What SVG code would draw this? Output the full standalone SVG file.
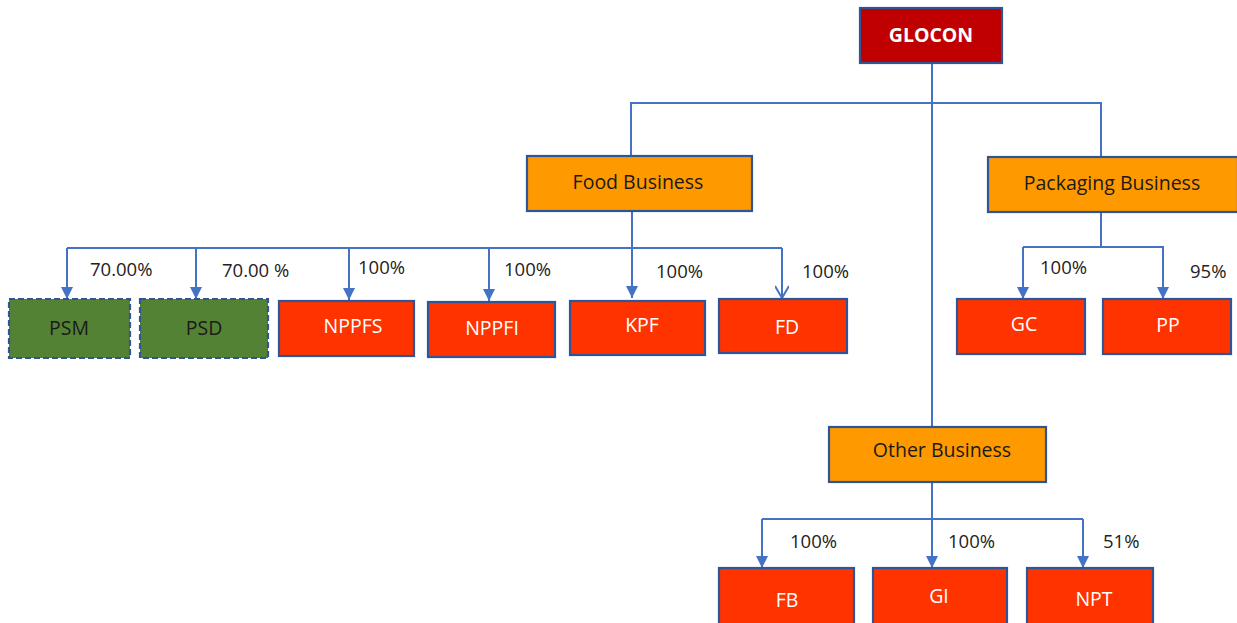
<svg xmlns="http://www.w3.org/2000/svg" width="1237" height="623" viewBox="0 0 1237 623">
<style>
.box{stroke:#2F5597;stroke-width:2.2}
.red{fill:#FF3300}
.org{fill:#FF9900}
.grn{fill:#548235;stroke-dasharray:6 3}
.top{fill:#C00000}
.wt{font-family:"Open Sans","Liberation Sans",sans-serif;font-size:19.5px;fill:#FFFFFF;text-anchor:middle}
.bt{font-family:"Open Sans","Liberation Sans",sans-serif;font-size:19.5px;fill:#1a1a1a;text-anchor:middle}
.pc{font-family:"Open Sans","Liberation Sans",sans-serif;font-size:18.5px;fill:#222222}
.ln{fill:none;stroke:#4472C4;stroke-width:2}
</style>
<defs>
<marker id="tri" viewBox="0 0 12 12" refX="6" refY="12" markerWidth="12" markerHeight="12" markerUnits="userSpaceOnUse">
<path d="M0,0 L12,0 L6,12 Z" fill="#4472C4"/>
</marker>
<marker id="vee" viewBox="0 0 14 14" refX="7" refY="13" markerWidth="14" markerHeight="14" markerUnits="userSpaceOnUse">
<path d="M0,1 L7,13 L14,1" fill="none" stroke="#4472C4" stroke-width="2"/>
</marker>
</defs>
<g id="connectors">
<path class="ln" d="M932,62 V427"/>
<path class="ln" d="M631,156 V103 H1101 V157"/>
<path class="ln" d="M632,211 V298" marker-end="url(#tri)"/>
<path class="ln" d="M67,248 H782"/>
<path class="ln" d="M67,248 V299" marker-end="url(#tri)"/>
<path class="ln" d="M196,248 V299" marker-end="url(#tri)"/>
<path class="ln" d="M349,248 V300" marker-end="url(#tri)"/>
<path class="ln" d="M489,248 V301" marker-end="url(#tri)"/>
<path class="ln" d="M782,248 V298" marker-end="url(#vee)"/>
<path class="ln" d="M1101,212 V247"/>
<path class="ln" d="M1023,247 H1164"/>
<path class="ln" d="M1023,247 V299" marker-end="url(#tri)"/>
<path class="ln" d="M1163,247 V299" marker-end="url(#tri)"/>
<path class="ln" d="M932,482 V568" marker-end="url(#tri)"/>
<path class="ln" d="M762,519 H1083"/>
<path class="ln" d="M762,519 V568" marker-end="url(#tri)"/>
<path class="ln" d="M1083,519 V568" marker-end="url(#tri)"/>
</g>
<g id="labels">
<text class="pc" x="90" y="276">70.00%</text>
<text class="pc" x="222" y="277">70.00 %</text>
<text class="pc" x="358" y="274">100%</text>
<text class="pc" x="504" y="276">100%</text>
<text class="pc" x="656" y="278">100%</text>
<text class="pc" x="802" y="278">100%</text>
<text class="pc" x="1040" y="274">100%</text>
<text class="pc" x="1190" y="278">95%</text>
<text class="pc" x="790" y="548">100%</text>
<text class="pc" x="948" y="548">100%</text>
<text class="pc" x="1103" y="548">51%</text>
</g>
<g id="glocon"><rect class="box top" x="860" y="8" width="142" height="55"/><text class="wt" x="931" y="42" font-weight="bold" font-size="20.5px">GLOCON</text></g>
<g id="food"><rect class="box org" x="527" y="156" width="225" height="55"/><text class="bt" x="638" y="189">Food Business</text></g>
<g id="packaging"><rect class="box org" x="988" y="157" width="250" height="55"/><text class="bt" x="1112" y="190">Packaging Business</text></g>
<g id="other"><rect class="box org" x="829" y="427" width="217" height="55"/><text class="bt" x="942" y="457">Other Business</text></g>
<g id="psm"><rect class="box grn" x="9" y="299" width="121" height="59"/><text class="bt" x="69" y="335">PSM</text></g>
<g id="psd"><rect class="box grn" x="140" y="299" width="128" height="59"/><text class="bt" x="204" y="335">PSD</text></g>
<g id="nppfs"><rect class="box red" x="279" y="301" width="135" height="55"/><text class="wt" x="353" y="333">NPPFS</text></g>
<g id="nppfi"><rect class="box red" x="428" y="302" width="127" height="55"/><text class="wt" x="492" y="335">NPPFI</text></g>
<g id="kpf"><rect class="box red" x="570" y="301" width="135" height="54"/><text class="wt" x="642" y="332">KPF</text></g>
<g id="fd"><rect class="box red" x="719" y="299" width="128" height="54"/><text class="wt" x="787" y="334">FD</text></g>
<g id="gc"><rect class="box red" x="957" y="299" width="128" height="55"/><text class="wt" x="1024" y="331">GC</text></g>
<g id="pp"><rect class="box red" x="1103" y="299" width="128" height="55"/><text class="wt" x="1168" y="332">PP</text></g>
<g id="fb"><rect class="box red" x="719" y="568" width="135" height="60"/><text class="wt" x="787" y="607">FB</text></g>
<g id="gi"><rect class="box red" x="873" y="568" width="134" height="60"/><text class="wt" x="939" y="603">GI</text></g>
<g id="npt"><rect class="box red" x="1027" y="568" width="126" height="60"/><text class="wt" x="1094" y="606">NPT</text></g>
</svg>
